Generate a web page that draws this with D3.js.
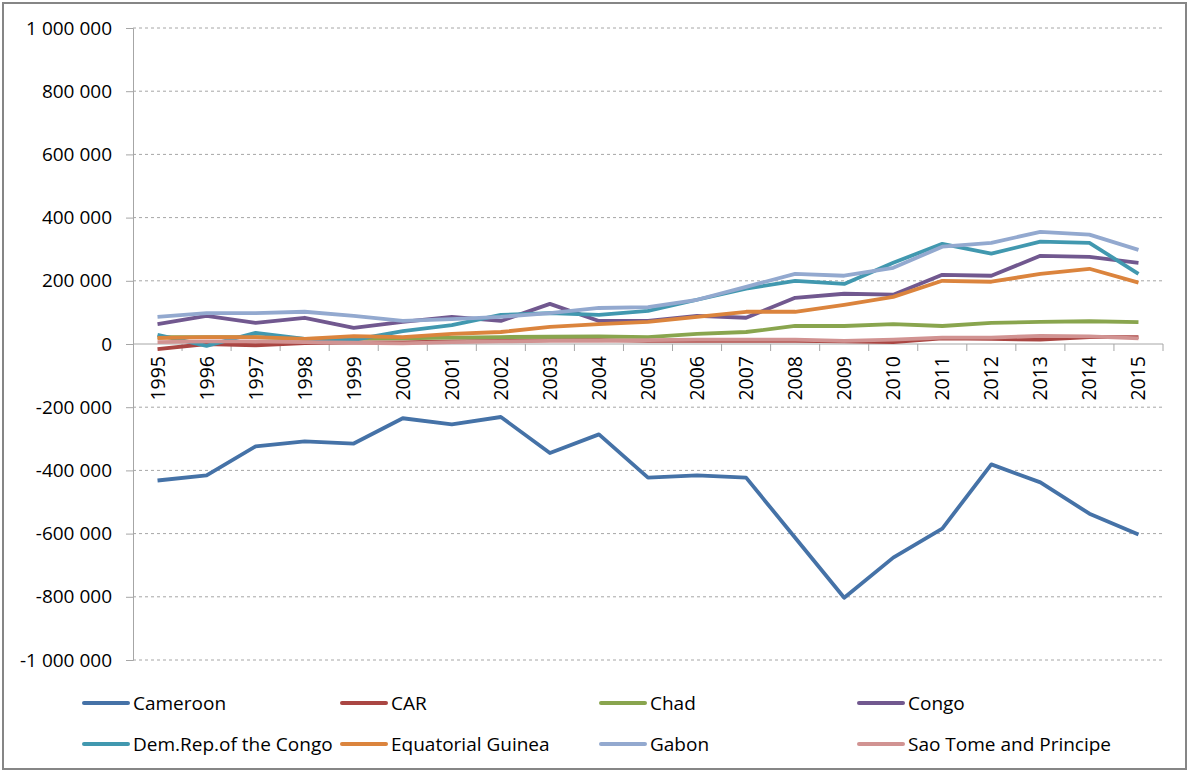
<!DOCTYPE html>
<html>
<head>
<meta charset="utf-8">
<script src="https://cdn.jsdelivr.net/npm/d3@7"></script>
<style>
  body { margin: 0; background: #fff; }
  text { font-family: "Open Sans", sans-serif; fill: #000; }
</style>
</head>
<body>
<div id="chart"></div>
<script>
var years = ["1995","1996","1997","1998","1999","2000","2001","2002","2003","2004","2005",
             "2006","2007","2008","2009","2010","2011","2012","2013","2014","2015"]
var yTicks = [-1000000,-800000,-600000,-400000,-200000,0,200000,400000,600000,800000,1000000]

var cameroon = [-432000,-416000,-324000,-308000,-315000,-235000,-254000,-231000,-345000,-286000,-423000,
                -416000,-423000,-613000,-803000,-676000,-584000,-381000,-438000,-537000,-603000]
var car      = [-16000,0,-4000,3000,5000,5000,8000,10000,12000,12000,10000,
                10000,10000,10000,8000,6000,18000,16000,14000,22000,22000]
var chad     = [22000,22000,22000,16000,18000,18000,20000,22000,23000,24000,22000,
                32000,38000,57000,57000,63000,57000,67000,70000,72000,69000]
var congo    = [63000,89000,67000,83000,51000,70000,86000,73000,127000,73000,73000,
                89000,83000,146000,159000,156000,219000,216000,279000,276000,257000]
var drc      = [29000,-6000,35000,16000,13000,41000,60000,92000,98000,92000,105000,
                140000,175000,200000,190000,257000,317000,286000,324000,320000,222000]
var eqGuinea = [19000,22000,22000,16000,25000,22000,32000,38000,54000,63000,70000,
                86000,102000,102000,124000,149000,200000,197000,222000,238000,194000]
var gabon    = [86000,98000,98000,102000,89000,73000,79000,86000,98000,114000,117000,
                140000,181000,222000,216000,241000,308000,320000,355000,346000,298000]
var saoTome  = [6000,8000,8000,6000,4000,2000,6000,8000,10000,10000,12000,
                14000,14000,14000,10000,14000,20000,20000,26000,24000,18000]

var seriesNames  = ["Cameroon","CAR","Chad","Congo","Dem.Rep.of the Congo","Equatorial Guinea","Gabon","Sao Tome and Principe"]
var seriesValues = [cameroon, car, chad, congo, drc, eqGuinea, gabon, saoTome]
var seriesColors = ["#4572A7","#AA4643","#89A54E","#71588F","#4198AF","#DB843D","#93A9CF","#D19392"]

var width = 1189, height = 773
var margin = {top: 28, left: 133, right: 26, bottom: 113}

var svg = d3.select("#chart").append("svg")
  .attr("width", width)
  .attr("height", height)

svg.append("rect")
  .attr("x", 3).attr("y", 3)
  .attr("width", width - 6).attr("height", height - 7)
  .attr("fill", "#fff")
  .attr("stroke", "#868686")
  .attr("stroke-width", 2)

var x = d3.scaleBand().domain(years).range([margin.left, width - margin.right])
var y = d3.scaleLinear().domain([-1000000, 1000000]).range([height - margin.bottom, margin.top])

// space as thousands separator, plain hyphen for minus
var fmt = function(v) { return d3.format(",")(v).replace(/,/g, " ").replace("\u2212", "-") }

// gridlines
svg.append("g").selectAll("line")
  .data(yTicks.filter(function(d) { return d != 0 }))
  .enter().append("line")
    .attr("x1", margin.left).attr("x2", width - margin.right)
    .attr("y1", function(d) { return y(d) }).attr("y2", function(d) { return y(d) })
    .attr("stroke", "#a6a6a6")
    .attr("stroke-dasharray", "3,3")

// y axis
var yAxis = d3.axisLeft(y).tickValues(yTicks).tickSize(7).tickPadding(14).tickFormat(fmt)
var gy = svg.append("g").attr("transform", "translate(" + margin.left + ",0)").call(yAxis)
gy.select(".domain").attr("stroke", "#a6a6a6")
gy.selectAll(".tick line").attr("stroke", "#a6a6a6")
gy.selectAll("text").style("font-size", "19px").style("font-family", "Open Sans, sans-serif").attr("fill", "#000")

// zero axis with category ticks
var zx = svg.append("g")
zx.append("line")
  .attr("x1", margin.left).attr("x2", width - margin.right)
  .attr("y1", y(0)).attr("y2", y(0))
  .attr("stroke", "#a6a6a6")
zx.selectAll(".cat-tick")
  .data(years.slice(1).concat(["end"]))
  .enter().append("line")
    .attr("x1", function(d) { return d == "end" ? x.range()[1] : x(d) })
    .attr("x2", function(d) { return d == "end" ? x.range()[1] : x(d) })
    .attr("y1", y(0)).attr("y2", y(0) + 7)
    .attr("stroke", "#a6a6a6")
zx.selectAll(".cat-label")
  .data(years)
  .enter().append("text")
    .attr("transform", function(d) {
      return "translate(" + (x(d) + x.bandwidth() / 2 + 7) + "," + (y(0) + 12) + ") rotate(-90)"
    })
    .attr("text-anchor", "end")
    .style("font-size", "19.5px")
    .text(function(d) { return d })

// lines
var line = d3.line()
  .x(function(d, i) { return x(years[i]) + x.bandwidth() / 2 })
  .y(function(d) { return y(d) })

svg.append("g").selectAll("path")
  .data(seriesValues)
  .enter().append("path")
    .attr("d", function(d) { return line(d) })
    .attr("fill", "none")
    .attr("stroke", function(d, i) { return seriesColors[i] })
    .attr("stroke-width", 3.8)
    .attr("stroke-linejoin", "round")

// legend
var legend = svg.append("g")
var legX = [84, 342, 601, 859]
var legY = [703, 744]
seriesNames.forEach(function(name, i) {
  var lx = legX[i % 4], ly = legY[Math.floor(i / 4)]
  legend.append("line")
    .attr("x1", lx).attr("x2", lx + 44)
    .attr("y1", ly).attr("y2", ly)
    .attr("stroke", seriesColors[i])
    .attr("stroke-width", 4)
    .attr("stroke-linecap", "round")
  legend.append("text")
    .attr("x", lx + 49).attr("y", ly)
    .attr("dy", "0.35em")
    .style("font-size", "19px")
    .text(name)
})
</script>
</body>
</html>
